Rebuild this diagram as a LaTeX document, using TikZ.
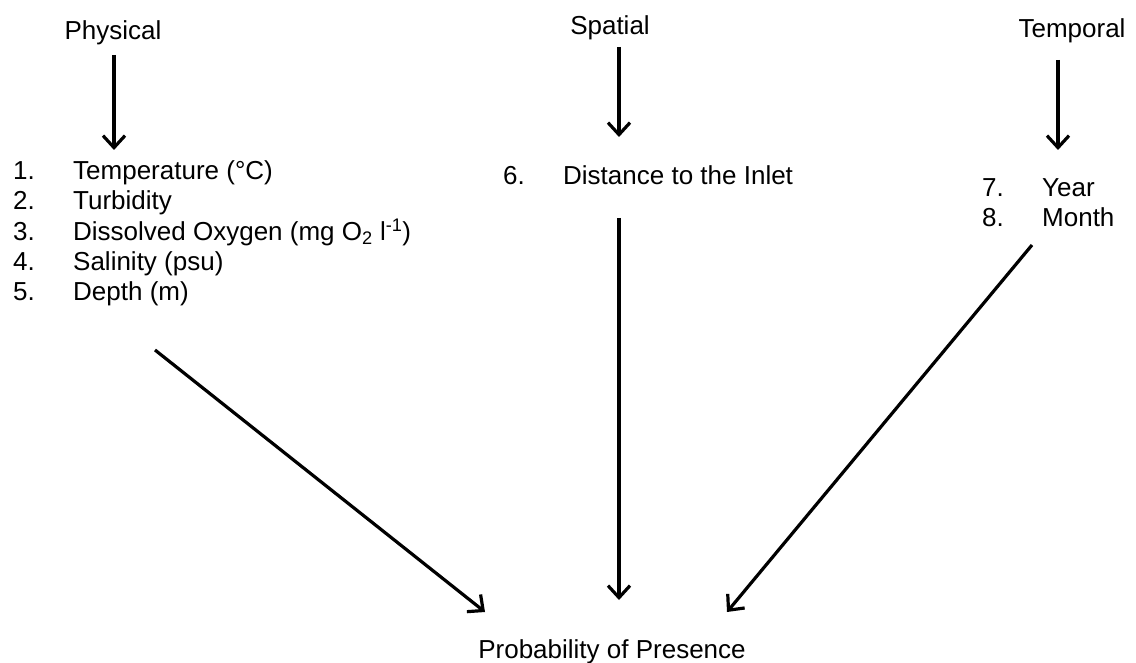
\documentclass[tikz,border=0pt]{standalone}
\usepackage{fontspec}
\setmainfont{Liberation Sans}
\usetikzlibrary{arrows.meta}
\tikzset{
  lbl/.style={font=\fontsize{26}{30}\selectfont, inner sep=0pt, anchor=base},
  lst/.style={font=\fontsize{26}{30}\selectfont, inner sep=0pt, anchor=base west},
  conn/.style={line width=3.2pt, -{Straight Barb[length=12pt,width=22pt]}},
}
\begin{document}
\begin{tikzpicture}[x=1pt,y=-1pt]
\useasboundingbox (0,0) rectangle (1136,663);
% headers
\node[lbl] (phys) at (113,40) {Physical};
\node[lbl] (spat) at (610,35) {Spatial};
\node[lbl] (temp) at (1072,38) {Temporal};
% lists
\node[lst] (physlist) at (13,180) {\begin{tabular}[t]{@{}p{60pt}@{}l@{}}
1. & Temperature (°C)\\
2. & Turbidity\\
3. & Dissolved Oxygen (mg O\textsubscript{2} l\textsuperscript{-1})\\
4. & Salinity (psu)\\
5. & Depth (m)
\end{tabular}};
\node[lst] (spatlist) at (503,185) {\begin{tabular}[t]{@{}p{60pt}@{}l@{}}
6. & Distance to the Inlet
\end{tabular}};
\node[lst] (templist) at (982,197) {\begin{tabular}[t]{@{}p{60pt}@{}l@{}}
7. & Year\\
8. & Month
\end{tabular}};
% result
\node[lbl] (prob) at (612,658) {Probability of Presence};
% connector end points
\coordinate (p1) at (114,55);  \coordinate (p2) at (114,150);
\coordinate (s1) at (619,47);  \coordinate (s2) at (619,137);
\coordinate (t1) at (1058,60); \coordinate (t2) at (1058,150);
\coordinate (pa) at (155,350); \coordinate (pb) at (485,612);
\coordinate (sa) at (619,218); \coordinate (sb) at (619,600);
\coordinate (ta) at (1032,245); \coordinate (tb) at (727,612);
\draw[conn] (p1) -- (p2);
\draw[conn] (s1) -- (s2);
\draw[conn] (t1) -- (t2);
\draw[conn] (pa) -- (pb);
\draw[conn] (sa) -- (sb);
\draw[conn] (ta) -- (tb);
\end{tikzpicture}
\end{document}
